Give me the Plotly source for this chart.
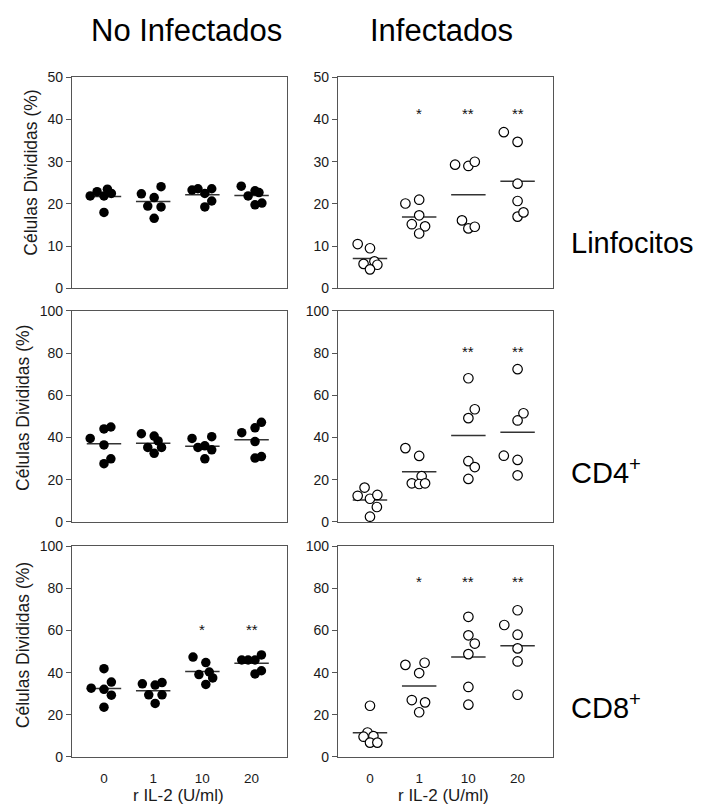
import numpy as np
import plotly.graph_objects as go

# r IL-2 doses (U/ml)
doses = ["0", "1", "10", "20"]

# % divided cells, one list of 6 donors per dose
linf_no_inf = [
    [21.9, 22.9, 21.9, 23.5, 22.5, 18.0],
    [22.4, 24.1, 21.5, 19.5, 19.3, 16.6],
    [23.3, 23.6, 22.5, 23.6, 20.7, 19.3],
    [24.2, 21.9, 23.1, 22.7, 19.8, 20.2],
]
linf_inf = [
    [10.5, 9.5, 6.4, 5.8, 5.6, 4.5],
    [20.1, 21.0, 17.3, 15.2, 14.7, 13.0],
    [29.3, 29.0, 30.0, 16.1, 14.2, 14.6],
    [37.0, 34.7, 24.8, 20.7, 17.0, 18.0],
]
cd4_no_inf = [
    [39.6, 44.1, 45.0, 36.5, 29.9, 27.6],
    [41.8, 40.7, 38.4, 35.3, 35.3, 32.5],
    [39.6, 40.4, 35.3, 36.1, 34.2, 29.9],
    [42.3, 44.6, 47.2, 38.1, 30.3, 31.0],
]
cd4_inf = [
    [12.4, 16.3, 11.0, 12.8, 7.1, 2.5],
    [35.0, 31.3, 21.7, 18.3, 18.0, 18.3],
    [68.1, 53.4, 49.2, 28.8, 26.0, 20.4],
    [72.4, 51.5, 48.1, 31.4, 29.4, 22.1],
]
cd8_no_inf = [
    [32.6, 41.9, 35.5, 32.1, 29.3, 23.6],
    [34.7, 34.1, 35.3, 29.5, 29.5, 25.4],
    [47.4, 44.8, 39.1, 40.3, 37.5, 34.4],
    [46.0, 46.0, 46.0, 48.4, 39.4, 40.9],
]
cd8_inf = [
    [24.3, 11.6, 9.6, 9.9, 6.8, 6.8],
    [43.7, 44.7, 39.8, 27.0, 25.9, 21.2],
    [66.5, 57.7, 53.8, 48.8, 33.2, 24.8],
    [69.6, 62.6, 58.0, 51.5, 45.3, 29.5],
]

# significance vs. dose 0
sig_linf_inf = ["", "*", "**", "**"]
sig_cd4_inf = ["", "", "**", "**"]
sig_cd8_no_inf = ["", "", "*", "**"]
sig_cd8_inf = ["", "*", "**", "**"]
sig_none = ["", "", "", ""]

# horizontal spread of the dots around each dose (category units)
jit_linf_no_inf = [[-0.28, -0.14, 0.0, 0.07, 0.15, 0.0], [-0.24, 0.16, 0.02, -0.11, 0.16, 0.02],
                   [-0.21, -0.09, 0.05, 0.19, 0.19, 0.05], [-0.21, -0.07, 0.07, 0.15, 0.07, 0.21]]
jit_linf_inf = [[-0.25, 0.0, 0.09, -0.13, 0.15, 0.0], [-0.28, 0.0, 0.0, -0.15, 0.12, 0.0],
                [-0.27, 0.0, 0.13, -0.13, 0.0, 0.13], [-0.28, 0.0, 0.0, 0.0, 0.0, 0.12]]
jit_cd4_no_inf = [[-0.28, 0.0, 0.14, 0.0, 0.14, 0.0], [-0.24, 0.02, 0.1, -0.11, 0.17, 0.02],
                  [-0.21, 0.19, -0.09, 0.05, 0.19, 0.05], [-0.2, 0.07, 0.2, 0.07, 0.07, 0.2]]
jit_cd4_inf = [[-0.25, -0.11, 0.0, 0.15, 0.14, 0.0], [-0.28, 0.0, 0.05, -0.15, 0.0, 0.12],
               [0.0, 0.13, 0.0, 0.0, 0.13, 0.0], [0.0, 0.12, 0.0, -0.28, 0.0, 0.0]]
jit_cd8_no_inf = [[-0.26, 0.0, 0.15, 0.0, 0.15, 0.0], [-0.22, 0.04, 0.18, -0.09, 0.18, 0.04],
                  [-0.19, 0.07, -0.07, 0.14, 0.21, 0.07], [-0.2, -0.07, 0.07, 0.2, 0.07, 0.2]]
jit_cd8_inf = [[0.0, -0.05, -0.13, 0.07, 0.0, 0.15], [-0.28, 0.11, 0.0, -0.15, 0.12, 0.0],
               [0.0, 0.0, 0.13, 0.0, 0.0, 0.0], [0.0, -0.27, 0.0, 0.0, 0.0, 0.0]]

col_titles = ["No Infectados", "Infectados"]
row_titles = ["Linfocitos", "CD4<sup>+</sup>", "CD8<sup>+</sup>"]
y_title = "Células Divididas (%)"
x_title = "r IL-2 (U/ml)"

panels = [
    # (row, col, values, jitter, significance, filled, ymax, dtick, star level)
    (0, 0, linf_no_inf, jit_linf_no_inf, sig_none, True, 50, 10, 42.3),
    (0, 1, linf_inf, jit_linf_inf, sig_linf_inf, False, 50, 10, 42.3),
    (1, 0, cd4_no_inf, jit_cd4_no_inf, sig_none, True, 100, 20, 82.8),
    (1, 1, cd4_inf, jit_cd4_inf, sig_cd4_inf, False, 100, 20, 82.8),
    (2, 0, cd8_no_inf, jit_cd8_no_inf, sig_cd8_no_inf, True, 100, 20, 62.6),
    (2, 1, cd8_inf, jit_cd8_inf, sig_cd8_inf, False, 100, 20, 85.1),
]

W, H = 702, 812
col_px = [(72, 287), (338, 553)]
row_px = [(70.7, 286), (309, 524.3), (549, 764)]

FONT = "Liberation Sans, Arial, sans-serif"
TXT = "#1a1a1a"
AX = "#555555"

fig = go.Figure()
layout = dict(
    width=W, height=H, margin=dict(l=0, r=0, t=0, b=0),
    paper_bgcolor="white", plot_bgcolor="white", showlegend=False,
    font=dict(family=FONT, color=TXT),
)
annotations = []

for (r, c, vals, jit, sig, filled, ymax, dtick, star_y) in panels:
    n = r * 2 + c + 1
    xa = "x" if n == 1 else f"x{n}"
    ya = "y" if n == 1 else f"y{n}"
    x0, x1 = col_px[c]
    yt, yb = row_px[r]
    bottom = (r == 2)
    layout["xaxis" if n == 1 else f"xaxis{n}"] = dict(
        domain=[x0 / W, x1 / W], anchor=ya, range=[-0.65, 3.72],
        tickmode="array", tickvals=list(range(len(doses))), ticktext=doses,
        showticklabels=bottom, ticks="outside" if bottom else "", ticklen=9,
        tickcolor="rgba(0,0,0,0)", tickfont=dict(size=13.5, color=TXT),
        showline=True, linecolor=AX, linewidth=1.3, mirror=True,
        showgrid=False, zeroline=False, fixedrange=True,
    )
    layout["yaxis" if n == 1 else f"yaxis{n}"] = dict(
        domain=[1 - yb / H, 1 - yt / H], anchor=xa, range=[0, ymax],
        tick0=0, dtick=dtick, ticks="outside", ticklen=5, tickwidth=1.2,
        tickcolor=AX, tickfont=dict(size=14, color=TXT),
        showline=True, linecolor=AX, linewidth=1.3, mirror=True,
        showgrid=False, zeroline=False, fixedrange=True,
    )

    # mean lines (drawn under the dots)
    for i, v in enumerate(vals):
        m = float(np.mean(v))
        fig.add_trace(go.Scatter(
            x=[i - 0.35, i + 0.35], y=[m, m], mode="lines",
            line=dict(color="#333333", width=1.5),
            xaxis=xa, yaxis=ya, hoverinfo="skip",
        ))

    xs, ys = [], []
    for i, (v, j) in enumerate(zip(vals, jit)):
        xs += [i + d for d in j]
        ys += list(v)
    fig.add_trace(go.Scatter(
        x=xs, y=ys, mode="markers", xaxis=xa, yaxis=ya,
        marker=dict(
            symbol="circle", size=9.5,
            color="black" if filled else "white",
            line=dict(color="black", width=0 if filled else 1.2),
        ),
    ))

    for i, s in enumerate(sig):
        if s:
            annotations.append(dict(
                x=i, y=star_y, xref=xa, yref=ya, text=s, showarrow=False,
                font=dict(size=15, color="#111111"), xanchor="center", yanchor="middle",
                yshift=-4,
            ))

# column headers
for c, t in enumerate(col_titles):
    annotations.append(dict(
        x=[186, 441][c] / W, y=1 - 23 / H, xref="paper", yref="paper", text=t,
        showarrow=False, font=dict(size=31, color="black"),
        xanchor="center", yanchor="middle",
    ))

# row labels on the right
for r, t in enumerate(row_titles):
    annotations.append(dict(
        x=569 / W, y=1 - [240, 472, 712][r] / H, xref="paper", yref="paper",
        text=t, showarrow=False, font=dict(size=29, color="black"),
        xanchor="left", yanchor="middle",
    ))

# y-axis titles on the left column
for r in range(3):
    annotations.append(dict(
        x=[31, 23, 23][r] / W, y=1 - [168, 408, 650][r] / H, xref="paper", yref="paper",
        text=y_title, textangle=-90, showarrow=False,
        font=dict(size=17.5, color=TXT), xanchor="center", yanchor="middle",
    ))

# x-axis titles under the bottom row
for c in range(2):
    annotations.append(dict(
        x=[178, 443][c] / W, y=1 - 803 / H, xref="paper", yref="paper",
        text=x_title, showarrow=False, font=dict(size=17, color=TXT),
        xanchor="center", yanchor="middle",
    ))

layout["annotations"] = annotations
fig.update_layout(**layout)
fig.write_html("out.html")
